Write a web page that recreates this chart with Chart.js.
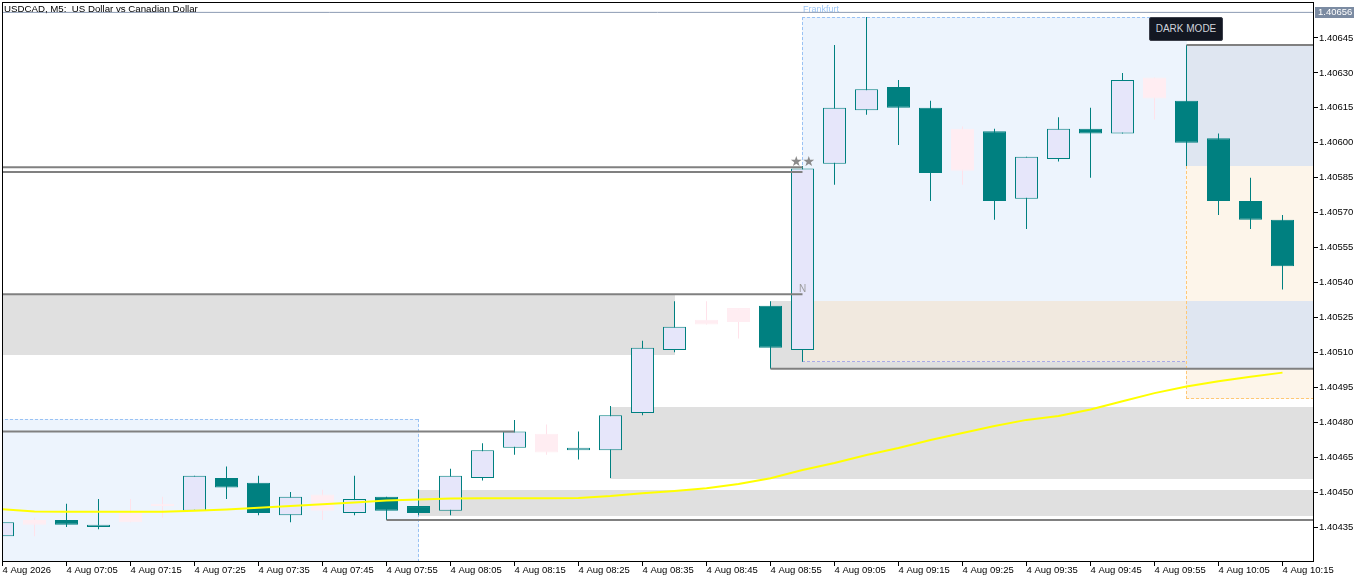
<!DOCTYPE html>
<html><head><meta charset="utf-8">
<script src="https://cdn.jsdelivr.net/npm/chart.js@4.4.1/dist/chart.umd.min.js"></script>
<style>
html,body{margin:0;padding:0;background:#fff;overflow:hidden;}
#wrap{position:relative;width:1366px;height:582px;}
#dark{position:absolute;left:1149px;top:17px;width:74px;height:24px;box-sizing:border-box;background:#131722;border:1px solid #3b3f4a;border-radius:2px;color:#cfd3dc;font:10px "Liberation Sans",Arial,sans-serif;line-height:22px;text-align:center;}
</style></head><body>
<div id="wrap"><canvas id="c" width="1366" height="582"></canvas><div id="dark">DARK MODE</div></div>
<script>
// ---- data (USDCAD M5, 4 Aug 2026) ----
const candleTimes = ['06:55','07:00','07:05','07:10','07:15','07:20','07:25','07:30','07:35','07:40','07:45','07:50','07:55','08:00','08:05','08:10','08:15','08:20','08:25','08:30','08:35','08:40','08:45','08:50','08:55','09:00','09:05','09:10','09:15','09:20','09:25','09:30','09:35','09:40','09:45','09:50','09:55','10:00','10:05','10:10','10:15'];
const opens  = [1.40431,1.40438,1.40438,1.40435,1.40441,1.40445,1.40442,1.40456,1.40454,1.40440,1.40449,1.40441,1.40448,1.40444,1.40442,1.40456,1.40469,1.40475,1.40468,1.40468,1.40484,1.40511,1.40524,1.40529,1.40530,1.40511,1.40591,1.40614,1.40624,1.40615,1.40606,1.40605,1.40576,1.40593,1.40606,1.40604,1.40628,1.40618,1.40602,1.40575,1.40567];
const highs  = [1.40437,1.40439,1.40445,1.40447,1.40447,1.40448,1.40457,1.40461,1.40457,1.40450,1.40451,1.40457,1.40448,1.40451,1.40460,1.40471,1.40481,1.40479,1.40476,1.40487,1.40515,1.40532,1.40532,1.40529,1.40532,1.40590,1.40642,1.40654,1.40627,1.40618,1.40607,1.40606,1.40594,1.40611,1.40615,1.40630,1.40628,1.40642,1.40604,1.40585,1.40569];
const lows   = [1.40431,1.40431,1.40435,1.40434,1.40437,1.40439,1.40442,1.40447,1.40440,1.40437,1.40438,1.40440,1.40438,1.40440,1.40440,1.40455,1.40466,1.40466,1.40464,1.40456,1.40483,1.40510,1.40522,1.40516,1.40503,1.40506,1.40582,1.40612,1.40599,1.40575,1.40582,1.40567,1.40563,1.40592,1.40585,1.40604,1.40610,1.40590,1.40569,1.40563,1.40537];
const closes = [1.40437,1.40436,1.40436,1.40436,1.40437,1.40444,1.40457,1.40452,1.40441,1.40448,1.40442,1.40447,1.40442,1.40441,1.40457,1.40468,1.40476,1.40467,1.40469,1.40483,1.40512,1.40521,1.40522,1.40523,1.40512,1.40589,1.40615,1.40623,1.40615,1.40587,1.40588,1.40575,1.40594,1.40606,1.40604,1.40627,1.40619,1.40600,1.40575,1.40567,1.40547];
const ghostIdx = [1,4,5,10,17,22,23,30,36];
const maValues = [1.404426,1.404417,1.404416,1.404416,1.404416,1.404416,1.404420,1.404425,1.404433,1.404440,1.404448,1.404455,1.404464,1.404468,1.404472,1.404473,1.404473,1.404473,1.404475,1.404483,1.404495,1.404505,1.404516,1.404535,1.404559,1.404595,1.404625,1.404659,1.404689,1.404724,1.404754,1.404784,1.404810,1.404827,1.404855,1.404890,1.404925,1.404953,1.404976,1.404995,1.405013];

const levelPrice = [1.405895,1.405875,1.40535,1.40476,1.40503,1.40642,1.40438];
const levelStart = [-1,-1,-1,-1,24,37,12];
const levelEnd   = [25,25,25,16,42,42,42];

const zoneNames = ['session1','zoneA','zoneB','zoneC','zoneD','frankfurt','frankfurtOverlap','rangeUpper','rangeLower','rangeOverlap'];
const zoneStart = [-1,-1,19,13,24,25,25,37,37,37];
const zoneEnd   = [13,21,42,42,42,37,37,42,42,42];
const zoneHigh  = [1.40481,1.40535,1.404865,1.404505,1.40532,1.40654,1.40532,1.40642,1.40590,1.40532];
const zoneLow   = [1.40400,1.40509,1.40456,1.40440,1.40503,1.40506,1.40506,1.40590,1.40490,1.40503];
const zoneLabels = {frankfurt:'Frankfurt'};

const markText  = ['\u2605\u2605','N'];
const markIdx   = [25,25];
const markPrice = [1.405915,1.40537];

const currentPrice = 1.40656;
const titleText = 'USDCAD, M5:  US Dollar vs Canadian Dollar';
const xTickIdx = [0,2,4,6,8,10,12,14,16,18,20,22,24,26,28,30,32,34,36,38,40];
const xTickLabels = ['4 Aug 2026','4 Aug 07:05','4 Aug 07:15','4 Aug 07:25','4 Aug 07:35','4 Aug 07:45','4 Aug 07:55','4 Aug 08:05','4 Aug 08:15','4 Aug 08:25','4 Aug 08:35','4 Aug 08:45','4 Aug 08:55','4 Aug 09:05','4 Aug 09:15','4 Aug 09:25','4 Aug 09:35','4 Aug 09:45','4 Aug 09:55','4 Aug 10:05','4 Aug 10:15'];
const yTicks = [1.40435,1.40450,1.40465,1.40480,1.40495,1.40510,1.40525,1.40540,1.40555,1.40570,1.40585,1.40600,1.40615,1.40630,1.40645];
const xMin = -0.015625, xMax = 40.953125;
const yMin = 1.404204, yMax = 1.4066046;

// ---- styles ----
const TEAL = '#008080', LAV = '#e6e6fa', PINK = '#ffedf2', PINKW = '#ffe2ea';
const zoneStyle = {
  session1:{fill:'#edf4fd', dash:{top:'#99c2f4', right:'#99c2f4'}},
  zoneA:{fill:'#e0e0e0'}, zoneB:{fill:'#e0e0e0'}, zoneC:{fill:'#e0e0e0'}, zoneD:{fill:'#e0e0e0'},
  frankfurt:{fill:'#edf4fd', dash:{top:'#99c2f4', left:'#99c2f4', bottom:'#a9abe8'}},
  frankfurtOverlap:{fill:'#f1e9df'},
  rangeUpper:{fill:'#dfe6f1'},
  rangeLower:{fill:'#fdf5ea', dash:{left:'#ffc875', bottom:'#ffc875'}},
  rangeOverlap:{fill:'#dfe6f1'}
};

const isGhost = i => ghostIdx.includes(i);
const bodyBg = candleTimes.map((t,i)=> isGhost(i) ? PINK : (closes[i] >= opens[i] ? LAV : TEAL));
const bodyBd = candleTimes.map((t,i)=> isGhost(i) ? PINK : TEAL);
const wickC  = candleTimes.map((t,i)=> isGhost(i) ? PINKW : TEAL);

const datasets = [];
datasets.push({type:'line', data:[{x:-1,y:currentPrice},{x:42,y:currentPrice}], borderColor:'#8c9bb3', borderWidth:1, pointRadius:0, order:0, clip:0});
datasets.push({type:'line', data: maValues.map((v,i)=>({x:i,y:v})), borderColor:'#ffff00', borderWidth:2, pointRadius:0, tension:0, order:0, clip:0});
levelPrice.forEach((p,k)=>{
  datasets.push({type:'line', data:[{x:levelStart[k],y:p},{x:levelEnd[k],y:p}], borderColor:'#808080', borderWidth:2, pointRadius:0, order:1, clip:0});
});
datasets.push({type:'bar', data: candleTimes.map((t,i)=>({x:i,y:[opens[i],closes[i]]})), backgroundColor: bodyBg, borderColor: bodyBd, borderWidth:1, borderSkipped:false, barThickness:23, grouped:false, inflateAmount:0, order:2});
datasets.push({type:'bar', data: candleTimes.map((t,i)=>({x:i,y:[lows[i],highs[i]]})), backgroundColor: wickC, borderWidth:0, barThickness:1, grouped:false, inflateAmount:0, order:3});

const px = (c,v) => c.scales.x.getPixelForValue(v);
const py = (c,v) => c.scales.y.getPixelForValue(v);

const zonePlugin = {
  id:'zones',
  beforeDatasetsDraw(chart){
    const {ctx, chartArea:a} = chart;
    ctx.save();
    ctx.beginPath(); ctx.rect(a.left, a.top, a.right-a.left, a.bottom-a.top); ctx.clip();
    const boxes = zoneNames.map((n,k)=>({n, x0:Math.floor(px(chart,zoneStart[k])), x1:Math.floor(px(chart,zoneEnd[k])), y0:Math.floor(py(chart,zoneHigh[k])), y1:Math.floor(py(chart,zoneLow[k]))}));
    boxes.forEach(b=>{ ctx.fillStyle = zoneStyle[b.n].fill; ctx.fillRect(b.x0, b.y0, b.x1-b.x0+1, b.y1-b.y0+1); });
    ctx.lineWidth = 1; ctx.setLineDash([3,2]);
    boxes.forEach(b=>{
      const d = zoneStyle[b.n].dash; if(!d) return;
      const seg = (c,x0,y0,x1,y1)=>{ ctx.strokeStyle=c; ctx.beginPath(); ctx.moveTo(x0,y0); ctx.lineTo(x1,y1); ctx.stroke(); };
      if(d.top) seg(d.top, b.x0, b.y0+0.5, b.x1+1, b.y0+0.5);
      if(d.bottom) seg(d.bottom, b.x0, b.y1+0.5, b.x1+1, b.y1+0.5);
      if(d.left) seg(d.left, b.x0+0.5, b.y0, b.x0+0.5, b.y1+1);
      if(d.right) seg(d.right, b.x1+0.5, b.y0, b.x1+0.5, b.y1+1);
    });
    ctx.restore();
    ctx.save();
    ctx.font = '9px "Liberation Sans", Arial, sans-serif';
    ctx.fillStyle = '#9cc5f4'; ctx.textBaseline = 'middle'; ctx.textAlign = 'left';
    boxes.forEach(b=>{ if(zoneLabels[b.n]) ctx.fillText(zoneLabels[b.n], b.x0+1, b.y0-7); });
    ctx.restore();
  },
  afterDatasetsDraw(chart){
    const {ctx} = chart;
    ctx.save();
    ctx.textAlign='center'; ctx.textBaseline='middle';
    markText.forEach((t,k)=>{
      ctx.font = (k===0 ? '14px "DejaVu Sans"' : '10px "Liberation Sans", Arial');
      ctx.fillStyle = k===0 ? '#8a8a8a' : '#9c9c9c';
      ctx.fillText(t, px(chart,markIdx[k]), py(chart,markPrice[k]));
    });
    ctx.restore();
  },
  afterDraw(chart){
    const {ctx, chartArea:a} = chart;
    ctx.save();
    ctx.strokeStyle='#000'; ctx.lineWidth=1; ctx.setLineDash([]);
    ctx.strokeRect(a.left+0.5, a.top+0.5, a.right-a.left, a.bottom-a.top);
    ctx.font='9.7px "Liberation Sans", Arial, sans-serif'; ctx.fillStyle='#000';
    ctx.textAlign='left'; ctx.textBaseline='middle';
    ctx.fillText(titleText, a.left+2, a.top+7);
    const yc = Math.round(py(chart,currentPrice));
    ctx.fillStyle='#7b8ba2'; ctx.fillRect(a.right+2, yc-5, 39, 11);
    ctx.fillStyle='#fff'; ctx.font='9.5px "Liberation Sans", Arial, sans-serif';
    ctx.fillText(currentPrice.toFixed(5), a.right+5, yc+0.5);
    ctx.restore();
  }
};

Chart.defaults.font.family = '"Liberation Sans", Arial, sans-serif';
new Chart(document.getElementById('c'), {
  type:'bar',
  data:{datasets},
  options:{
    responsive:false, animation:false, devicePixelRatio:1, events:[],
    layout:{padding:{left:2, top:2, right:0, bottom:0}},
    plugins:{legend:{display:false}, tooltip:{enabled:false}},
    scales:{
      x:{type:'linear', min:xMin, max:xMax, offset:false, bounds:'data',
        grid:{display:true, drawOnChartArea:false, drawTicks:true, tickLength:5, color:'#000', offset:false},
        border:{display:false},
        ticks:{autoSkip:false, maxRotation:0, minRotation:0, align:'start', padding:0, color:'#000', font:{size:9.5, lineHeight:1}, callback:(v,i)=>xTickLabels[i]},
        afterBuildTicks:s=>{ s.ticks = xTickIdx.map(v=>({value:v})); },
        afterFit:s=>{ s.height = 21; s.paddingLeft = 0; s.paddingRight = 0; }
      },
      y:{type:'linear', position:'right', min:yMin, max:yMax, beginAtZero:false, bounds:'data',
        grid:{display:true, drawOnChartArea:false, drawTicks:true, tickLength:5, color:'#000'},
        border:{display:false},
        ticks:{padding:1, color:'#000', font:{size:9.5, lineHeight:1}, callback:v=>Number(v).toFixed(5)},
        afterBuildTicks:s=>{ s.ticks = yTicks.map(v=>({value:v})); },
        afterFit:s=>{ s.width = 53; s.paddingTop = 0; s.paddingBottom = 0; }
      }
    }
  },
  plugins:[zonePlugin]
});
</script>
</body></html>
